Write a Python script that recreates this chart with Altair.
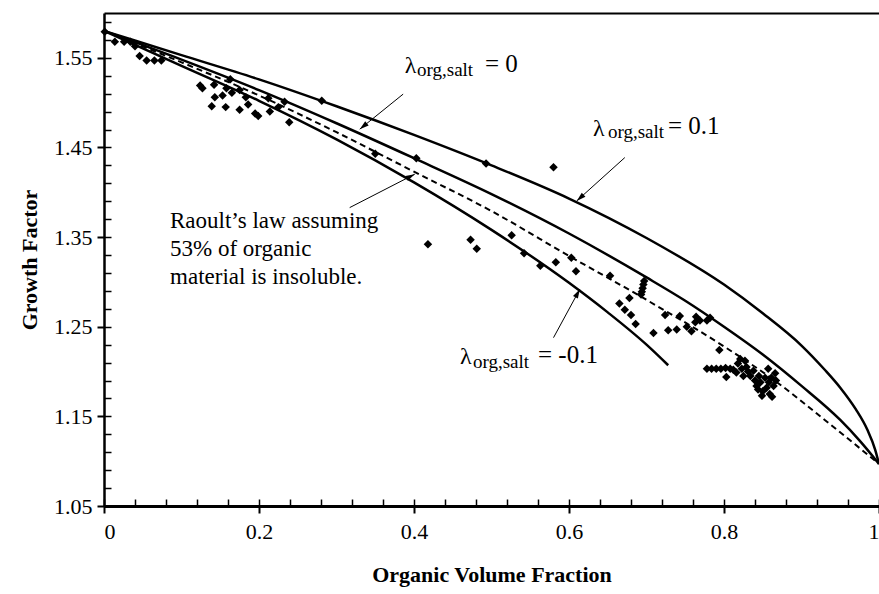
import math
import altair as alt
import pandas as pd

FONT = "'Liberation Serif', 'Times New Roman', Times, serif"
W, H = 775, 493
X_DOM = [0.0, 1.0]
Y_DOM = [1.05, 1.60]

# ---- model curves ----
lam_p01_x = [0.0, 0.1, 0.2, 0.3, 0.4, 0.5, 0.6, 0.7, 0.8, 0.85, 0.9, 0.93, 0.95, 0.97, 0.985, 0.995, 1.0]
lam_p01_y = [1.580, 1.553, 1.526, 1.496, 1.464, 1.430, 1.393, 1.349, 1.297, 1.265, 1.229, 1.202, 1.182, 1.158, 1.135, 1.113, 1.097]

lam_0_x = [0.0, 0.1, 0.2, 0.3, 0.4, 0.5, 0.6, 0.7, 0.75, 0.8, 0.85, 0.9, 0.95, 0.975, 1.0]
lam_0_y = [1.580, 1.548, 1.514, 1.477, 1.438, 1.398, 1.354, 1.305, 1.279, 1.250, 1.219, 1.184, 1.146, 1.123, 1.097]

lam_m01_x = [0.0, 0.1, 0.2, 0.3, 0.4, 0.5, 0.6, 0.65, 0.7, 0.728]
lam_m01_y = [1.580, 1.541, 1.502, 1.459, 1.411, 1.358, 1.299, 1.266, 1.230, 1.207]

raoult_x = [0.0, 0.1, 0.2, 0.3, 0.4, 0.5, 0.6, 0.7, 0.8, 0.87, 0.93, 1.0]
raoult_y = [1.580, 1.545, 1.508, 1.467, 1.423, 1.379, 1.329, 1.280, 1.228, 1.187, 1.146, 1.097]

# ---- measured growth factors ----
obs_x = [0.001, 0.014, 0.026, 0.034, 0.040, 0.046, 0.055, 0.065, 0.074,
         0.124, 0.127, 0.142, 0.143, 0.139, 0.153, 0.157, 0.158, 0.163, 0.165, 0.175, 0.175,
         0.183, 0.186, 0.195, 0.199, 0.212, 0.214, 0.225, 0.233, 0.239, 0.281,
         0.350, 0.403, 0.493, 0.580, 0.418, 0.473, 0.481, 0.526, 0.542, 0.563,
         0.583, 0.603, 0.609, 0.653, 0.697, 0.696, 0.695, 0.694, 0.693,
         0.678, 0.665, 0.672, 0.680, 0.686, 0.709, 0.724, 0.743, 0.728, 0.739, 0.752, 0.758,
         0.763, 0.764, 0.769, 0.778, 0.782, 0.794,
         0.778, 0.784, 0.790, 0.796, 0.802, 0.808, 0.812, 0.803,
         0.821, 0.827, 0.829, 0.823, 0.834, 0.825, 0.816, 0.818, 0.831,
         0.838, 0.840, 0.844, 0.849, 0.842, 0.845, 0.847, 0.850,
         0.857, 0.861, 0.864, 0.859, 0.867, 0.855, 0.853, 0.862, 0.866, 0.858]
obs_y = [1.579, 1.568, 1.568, 1.568, 1.563, 1.552, 1.547, 1.547, 1.547,
         1.519, 1.516, 1.520, 1.506, 1.496, 1.508, 1.495, 1.516, 1.526, 1.511, 1.514, 1.492,
         1.506, 1.498, 1.488, 1.485, 1.505, 1.490, 1.495, 1.501, 1.478, 1.502,
         1.443, 1.438, 1.432, 1.428, 1.342, 1.347, 1.337, 1.352, 1.332, 1.318,
         1.322, 1.327, 1.312, 1.307, 1.301, 1.297, 1.293, 1.289, 1.286,
         1.282, 1.276, 1.269, 1.263, 1.253, 1.243, 1.263, 1.262, 1.246, 1.247, 1.250, 1.245,
         1.255, 1.261, 1.257, 1.257, 1.260, 1.224,
         1.203, 1.203, 1.203, 1.203, 1.204, 1.203, 1.202, 1.194,
         1.214, 1.212, 1.205, 1.203, 1.195, 1.195, 1.199, 1.209, 1.200,
         1.201, 1.190, 1.180, 1.173, 1.184, 1.195, 1.188, 1.178,
         1.203, 1.193, 1.184, 1.175, 1.190, 1.182, 1.193, 1.172, 1.198, 1.188]

# ---- axis ticks ----
x_major = [0, 0.2, 0.4, 0.6, 0.8, 1.0]
x_minor = [0, 0.04, 0.08, 0.12, 0.16, 0.2, 0.24, 0.28, 0.32, 0.36, 0.4, 0.44, 0.48, 0.52,
           0.56, 0.6, 0.64, 0.68, 0.72, 0.76, 0.8, 0.84, 0.88, 0.92, 0.96, 1.0]
y_major = [1.05, 1.15, 1.25, 1.35, 1.45, 1.55]
y_minor = [1.05, 1.07, 1.09, 1.11, 1.13, 1.15, 1.17, 1.19, 1.21, 1.23, 1.25, 1.27, 1.29, 1.31,
           1.33, 1.35, 1.37, 1.39, 1.41, 1.43, 1.45, 1.47, 1.49, 1.51, 1.53, 1.55, 1.57, 1.59]

# ---- annotations ----
arrow_x0 = [0.386, 0.672, 0.317, 0.580]
arrow_y0 = [1.5095, 1.4387, 1.3829, 1.2378]
arrow_x1 = [0.330, 0.610, 0.401, 0.614]
arrow_y1 = [1.4704, 1.3904, 1.4202, 1.2919]

label_text = ["λ", "org,salt", "= 0",
              "λ", "org,salt", "= 0.1",
              "λ", "org,salt", "= -0.1",
              "Raoult’s law assuming", "53% of organic", "material is insoluble."]
label_x = [0.388, 0.4039, 0.4916,
           0.631, 0.6503, 0.7277,
           0.4594, 0.4761, 0.560,
           0.0852, 0.0852, 0.0852]
label_y = [1.5336, 1.5294, 1.5347,
           1.4630, 1.4602, 1.4648,
           1.2085, 1.2040, 1.2090,
           1.3606, 1.3290, 1.2974]
label_fs = [24, 19, 25, 24, 19, 25, 24, 19, 25, 23, 23, 23]

# ---- tables ----
solid_df = pd.concat([
    pd.DataFrame({"x": lam_p01_x, "y": lam_p01_y, "s": "0.1"}),
    pd.DataFrame({"x": lam_0_x, "y": lam_0_y, "s": "0"}),
    pd.DataFrame({"x": lam_m01_x, "y": lam_m01_y, "s": "-0.1"}),
])
dash_df = pd.DataFrame({"x": raoult_x, "y": raoult_y})
obs_df = pd.DataFrame({"x": obs_x, "y": obs_y})

px_per_x = W / (X_DOM[1] - X_DOM[0])
px_per_y = H / (Y_DOM[1] - Y_DOM[0])
angles = []
for a, b, c, d in zip(arrow_x0, arrow_y0, arrow_x1, arrow_y1):
    dx = (c - a) * px_per_x
    dy_up = (d - b) * px_per_y
    angles.append(math.degrees(math.atan2(dx, dy_up)) % 360)
arrow_df = pd.DataFrame({"x": arrow_x0, "y": arrow_y0, "x2": arrow_x1, "y2": arrow_y1,
                         "ang": angles})
label_df = pd.DataFrame({"x": label_x, "y": label_y, "t": label_text, "fs": label_fs})

xs = alt.Scale(domain=X_DOM, nice=False, zero=False)
ys = alt.Scale(domain=Y_DOM, nice=False, zero=False)

main_x_axis = alt.Axis(values=x_major, format="~g", tickSize=7, tickWidth=2, tickColor="black",
                       domainColor="black", domainWidth=3, labelFont=FONT, labelFontSize=22,
                       labelColor="black", labelPadding=8, grid=False, orient="bottom",
                       title="Organic Volume Fraction", titleFont=FONT, titleFontSize=22,
                       titleFontWeight="bold", titleColor="black", titlePadding=22)
main_y_axis = alt.Axis(values=y_major, format=".2f", tickSize=7, tickWidth=2, tickColor="black",
                       domainColor="black", domainWidth=2.5, labelFont=FONT, labelFontSize=22,
                       labelColor="black", labelPadding=5, grid=False, orient="left",
                       title="Growth Factor", titleFont=FONT, titleFontSize=22,
                       titleFontWeight="bold", titleColor="black", titlePadding=12)
minor_x_axis = alt.Axis(values=x_minor, tickSize=7, tickWidth=1.5, tickColor="black",
                        labels=False, domain=False, grid=False, title=None, offset=-7,
                        orient="bottom")
minor_y_axis = alt.Axis(values=y_minor, tickSize=7, tickWidth=1.5, tickColor="black",
                        labels=False, domain=False, grid=False, title=None, offset=-7,
                        orient="left")
top_axis = alt.Axis(orient="top", labels=False, ticks=False, grid=False, title=None,
                    domain=True, domainColor="black", domainWidth=2)

solid = alt.Chart(solid_df).mark_line(color="black", strokeWidth=2.5, interpolate="monotone").encode(
    x=alt.X("x:Q", scale=xs, axis=main_x_axis),
    y=alt.Y("y:Q", scale=ys, axis=main_y_axis),
    detail="s:N",
)
dashed = alt.Chart(dash_df).mark_line(color="black", strokeWidth=2, strokeDash=[6, 4],
                                      interpolate="monotone").encode(
    x=alt.X("x:Q", scale=xs, axis=minor_x_axis),
    y=alt.Y("y:Q", scale=ys, axis=minor_y_axis),
)
points = alt.Chart(obs_df).mark_point(shape="diamond", filled=True, color="black", size=72,
                                      opacity=1).encode(
    x=alt.X("x:Q", scale=xs, axis=top_axis),
    y=alt.Y("y:Q", scale=ys, axis=None),
)
arrows = alt.Chart(arrow_df).mark_rule(color="black", strokeWidth=1).encode(
    x=alt.X("x:Q", scale=xs, axis=None),
    y=alt.Y("y:Q", scale=ys, axis=None),
    x2="x2:Q",
    y2="y2:Q",
)
heads = alt.Chart(arrow_df).mark_point(shape="M0,0L-0.6,2L0.6,2Z", filled=True, color="black",
                                       size=85, opacity=1).encode(
    x=alt.X("x2:Q", scale=xs, axis=None),
    y=alt.Y("y2:Q", scale=ys, axis=None),
    angle=alt.Angle("ang:Q", scale=None),
)
labels = alt.Chart(label_df).mark_text(font=FONT, color="black", align="left",
                                       baseline="alphabetic").encode(
    x=alt.X("x:Q", scale=xs, axis=None),
    y=alt.Y("y:Q", scale=ys, axis=None),
    text="t:N",
    size=alt.Size("fs:Q", scale=None),
)

chart = alt.layer(solid, dashed, points, arrows, heads, labels).resolve_axis(
    x="independent", y="independent"
).properties(
    width=W, height=H,
    autosize=alt.AutoSizeParams(type="none"),
    padding={"left": 104, "top": 13, "right": 0, "bottom": 88},
    background="white",
).configure_view(stroke=None)

chart.save("out.html", embed_options={"renderer": "svg", "actions": False})
